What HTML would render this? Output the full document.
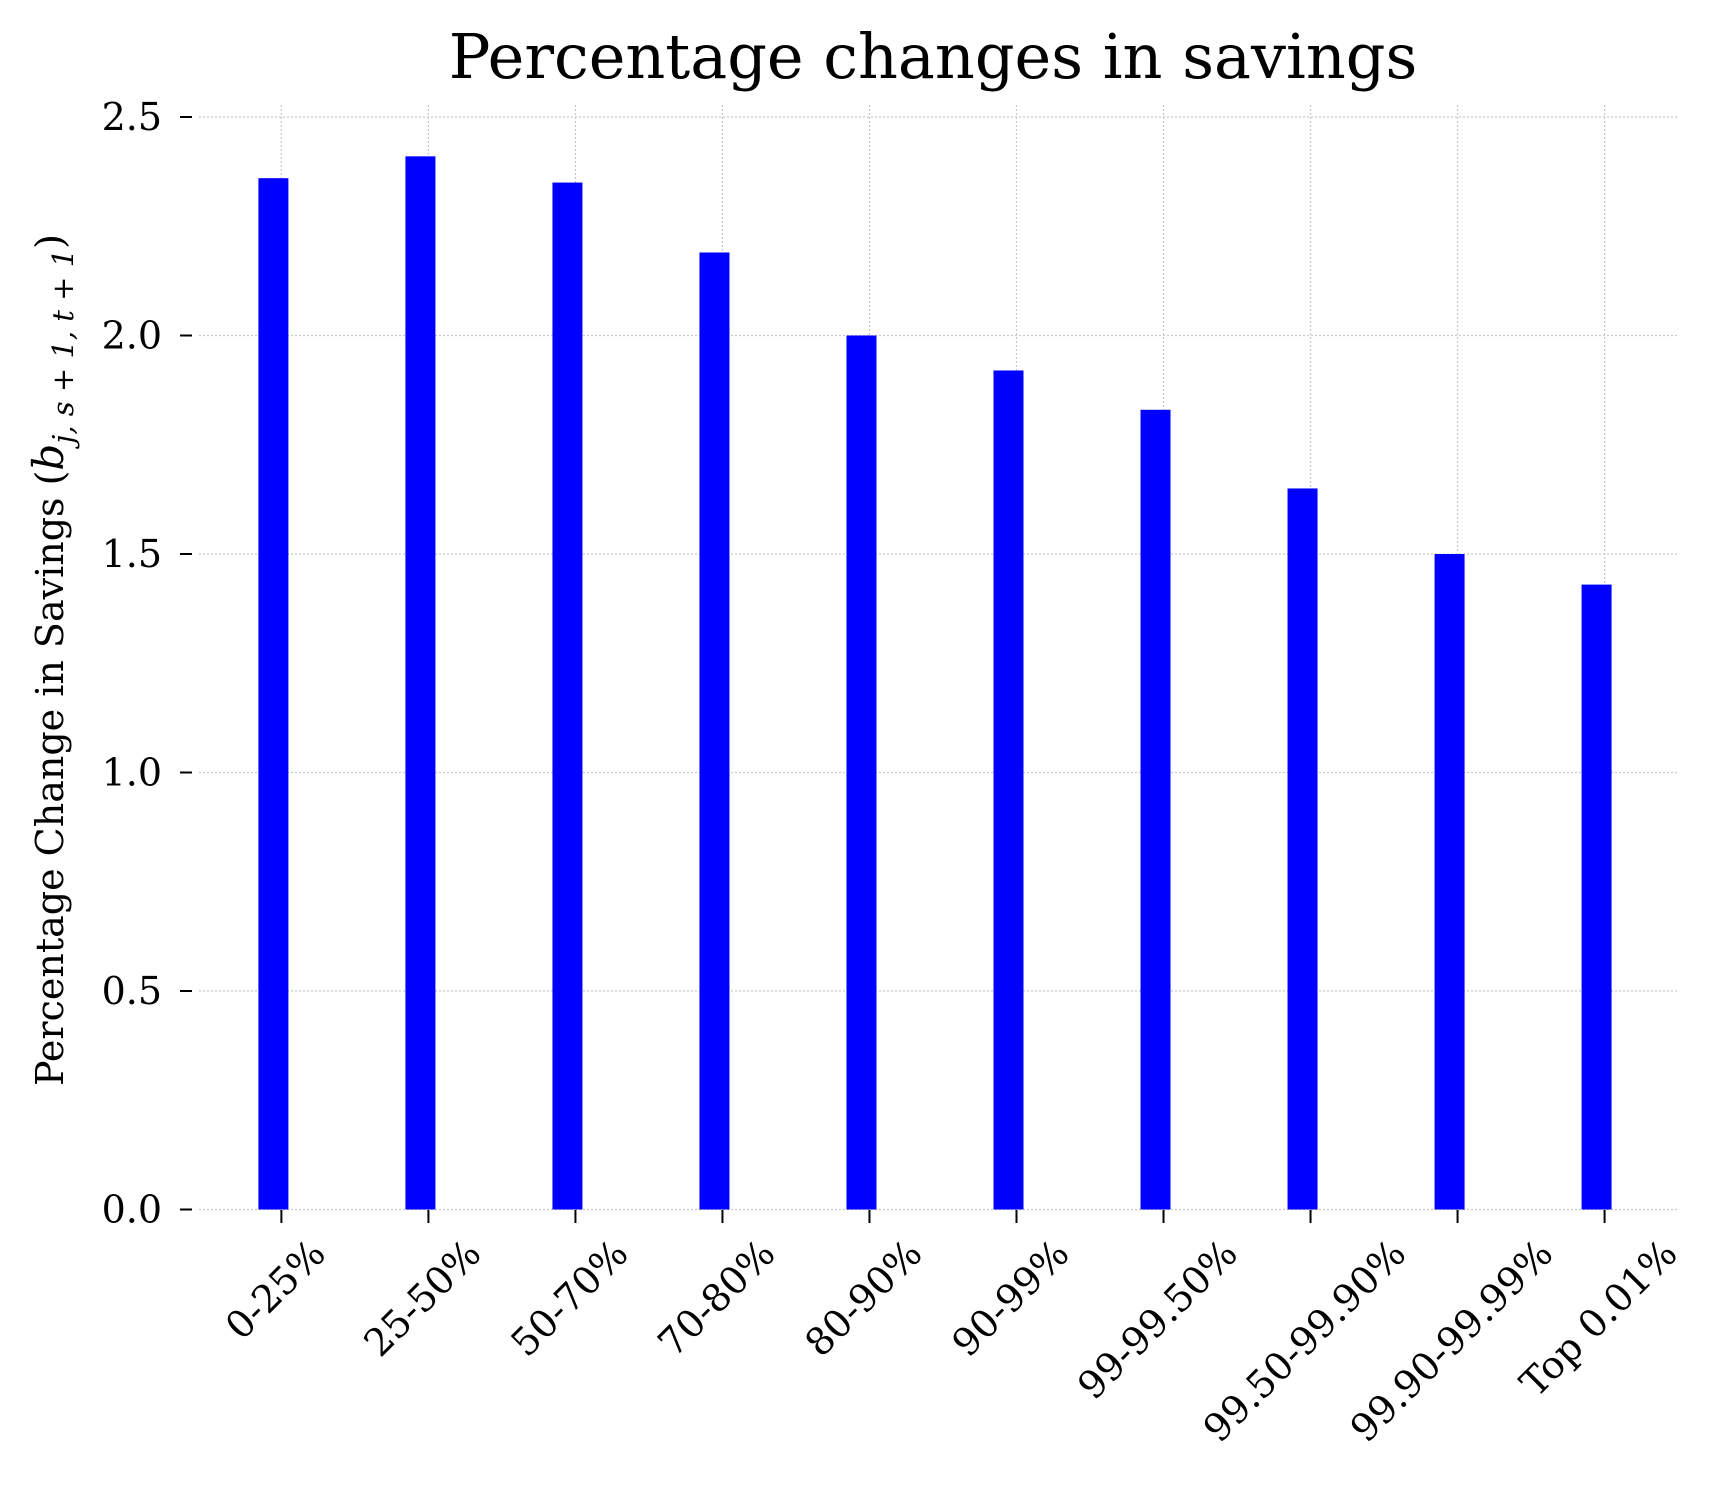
<!DOCTYPE html>
<html><head><meta charset="utf-8"><style>body{margin:0;background:#fff}svg{display:block}</style></head>
<body>
<svg id="chart" width="1726" height="1504" xmlns="http://www.w3.org/2000/svg" font-family="DejaVu Serif, Liberation Serif, serif">
<text x="933" y="78" font-size="62" text-anchor="middle">Percentage changes in savings</text>
<text transform="translate(63,660) rotate(-90)" font-size="38" text-anchor="middle">Percentage Change in Savings (<tspan font-style="italic" font-size="42">b</tspan><tspan font-size="29" dy="10" font-style="italic">j, s + 1, t + 1</tspan><tspan dy="-10">)</tspan></text>
<g id="grid"></g><g id="bars"></g><g id="axes"></g>
</svg>
<script>
const categories=["0-25%","25-50%","50-70%","70-80%","80-90%","90-99%","99-99.50%","99.50-99.90%","99.90-99.99%","Top 0.01%"];
const values=[2.36,2.41,2.35,2.19,2.00,1.92,1.83,1.65,1.50,1.43];
const yTicks=[0,0.5,1.0,1.5,2.0,2.5];
const yTickLabels=["0.0","0.5","1.0","1.5","2.0","2.5"];
const NS="http://www.w3.org/2000/svg";
const plotL=199,plotR=1679,y0px=1209.5,y25px=117;
function yScale(v){return y0px-(v/2.5)*(y0px-y25px);}
function xScale(i){return 281.4+i*147.02;}
function mk(tag,attrs,parent){const e=document.createElementNS(NS,tag);for(const k in attrs)e.setAttribute(k,attrs[k]);parent.appendChild(e);return e;}
const grid=document.getElementById('grid'),bars=document.getElementById('bars'),axes=document.getElementById('axes');
yTicks.forEach((t,i)=>{
  const y=yScale(t);
  const g=mk('line',{x1:plotL,x2:plotR,y1:y,y2:y,stroke:'#c8c8c8','stroke-width':1.2,'stroke-dasharray':'2,2'},grid);
  
  
  const tk=mk('line',{x1:180,x2:192,y1:y,y2:y,stroke:'#000','stroke-width':2},axes);
  
  
  const tx=mk('text',{x:162,y:y+13,'font-size':38,'text-anchor':'end'},axes);
  tx.textContent=yTickLabels[i];
  
  
});
categories.forEach((c,i)=>{
  const x=xScale(i);
  const g=mk('line',{x1:x,x2:x,y1:105,y2:y0px,stroke:'#c8c8c8','stroke-width':1.2,'stroke-dasharray':'2,2'},grid);
  
  
  const b=mk('rect',{x:x-23,y:yScale(values[i]),width:30,height:y0px-yScale(values[i]),fill:'#0000ff'},bars);
  
  
  const tk=mk('line',{x1:x,x2:x,y1:1210,y2:1223,stroke:'#000','stroke-width':2},axes);
  
  
  const t=mk('text',{'font-size':38,'text-anchor':'middle'},axes);
  t.textContent=c;
  
  
  const w=t.getComputedTextLength(),h=30;
  const bh=(w+h)*0.7071;
  const cy=1236+bh/2;
  t.setAttribute('x',x-6);t.setAttribute('y',cy+13);
  t.setAttribute('transform','rotate(-45 '+(x-6)+' '+cy+')');
});
</script>
</body></html>
